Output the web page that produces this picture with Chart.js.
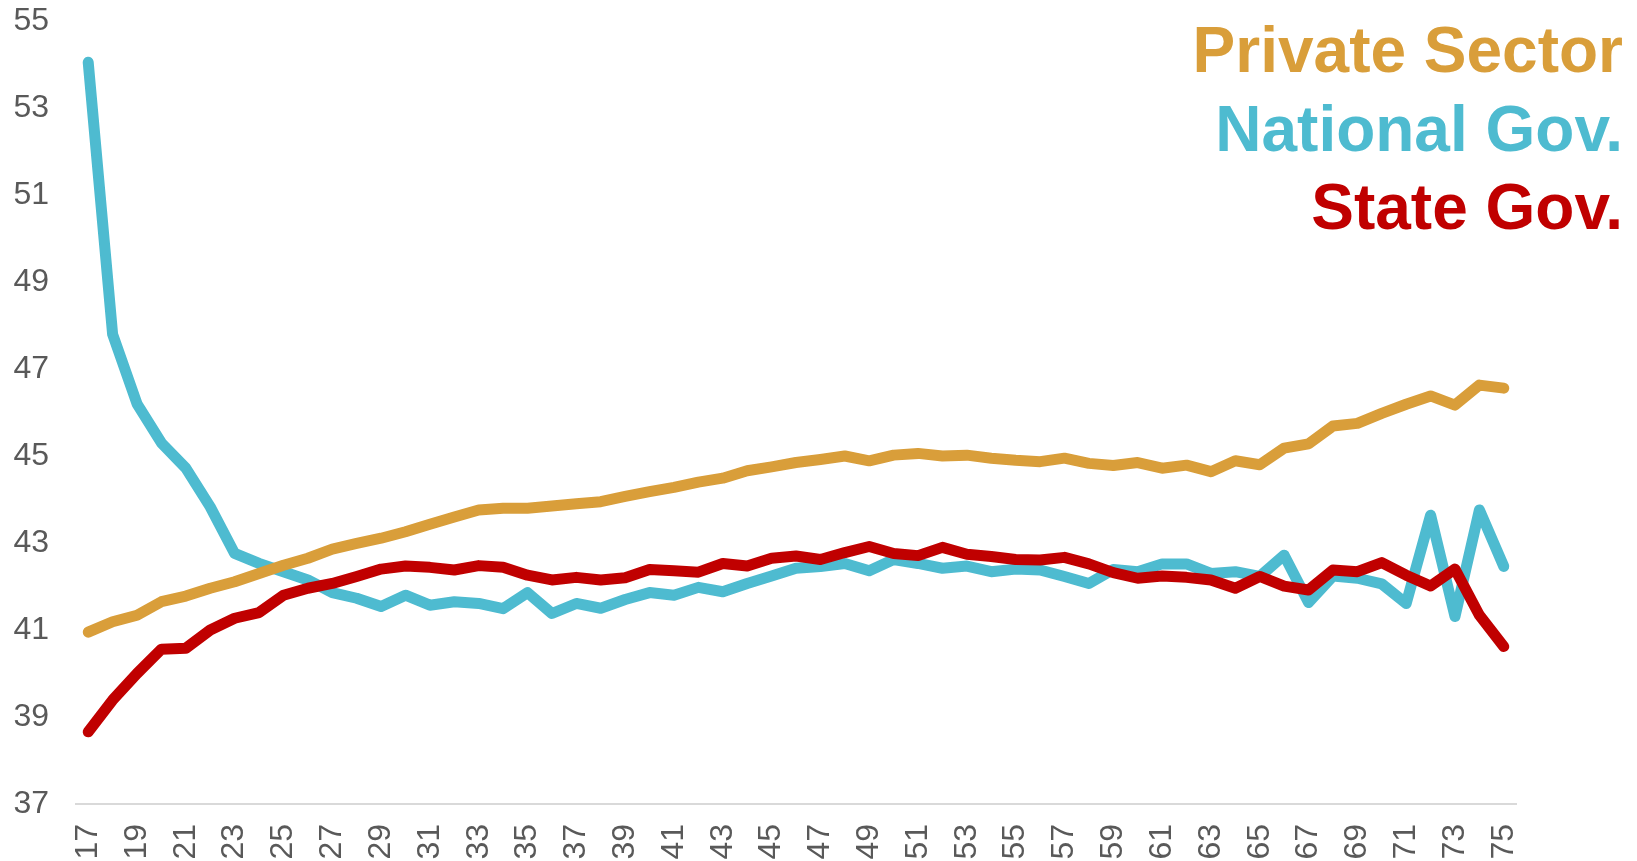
<!DOCTYPE html>
<html>
<head>
<meta charset="utf-8">
<title>Age by sector</title>
<script src="https://cdn.jsdelivr.net/npm/chart.js@4/dist/chart.umd.min.js"></script>
<style>
  html, body { margin: 0; padding: 0; background: #fff; }
  #wrap { position: relative; width: 1637px; height: 861px; }
  #key {
    position: absolute; top: 11px; right: 14px;
    text-align: right; font: bold 64px "Liberation Sans", Arial, sans-serif;
    line-height: 78.5px; white-space: nowrap;
  }
</style>
</head>
<body>
<div id="wrap">
  <canvas id="ageChart"></canvas>
  <div id="key"></div>
</div>
<script>
/* ages on the category axis */
const ages = [17, 18, 19, 20, 21, 22, 23, 24, 25, 26, 27, 28, 29, 30, 31, 32, 33, 34, 35, 36,
              37, 38, 39, 40, 41, 42, 43, 44, 45, 46, 47, 48, 49, 50, 51, 52, 53, 54, 55, 56,
              57, 58, 59, 60, 61, 62, 63, 64, 65, 66, 67, 68, 69, 70, 71, 72, 73, 74, 75];

const privateSector = [40.95, 41.19, 41.34, 41.65, 41.78, 41.96, 42.11, 42.30, 42.49, 42.65,
                       42.86, 42.99, 43.11, 43.26, 43.43, 43.60, 43.76, 43.80, 43.80, 43.85,
                       43.90, 43.95, 44.07, 44.18, 44.28, 44.40, 44.49, 44.66, 44.75, 44.85,
                       44.92, 45.00, 44.89, 45.02, 45.06, 45.00, 45.02, 44.95, 44.90, 44.87,
                       44.95, 44.83, 44.78, 44.85, 44.72, 44.79, 44.64, 44.89, 44.80, 45.18,
                       45.28, 45.69, 45.75, 45.98, 46.19, 46.38, 46.17, 46.63, 46.56];

const nationalGov = [54.05, 47.80, 46.20, 45.30, 44.72, 43.83, 42.76, 42.53, 42.34, 42.15,
                     41.86, 41.73, 41.54, 41.80, 41.57, 41.65, 41.61, 41.49, 41.86, 41.38,
                     41.61, 41.50, 41.70, 41.86, 41.80, 41.98, 41.88, 42.07, 42.24, 42.42,
                     42.46, 42.53, 42.36, 42.62, 42.53, 42.42, 42.47, 42.34, 42.40, 42.38,
                     42.23, 42.07, 42.39, 42.34, 42.52, 42.52, 42.30, 42.34, 42.23, 42.72,
                     41.63, 42.24, 42.19, 42.06, 41.61, 43.64, 41.31, 43.76, 42.46];

const stateGov = [38.66, 39.39, 40.00, 40.56, 40.58, 41.00, 41.27, 41.40, 41.80, 41.96,
                  42.07, 42.23, 42.40, 42.47, 42.44, 42.38, 42.48, 42.44, 42.26, 42.15,
                  42.21, 42.15, 42.20, 42.39, 42.36, 42.33, 42.53, 42.47, 42.65, 42.70,
                  42.62, 42.78, 42.92, 42.76, 42.71, 42.90, 42.74, 42.69, 42.62, 42.61,
                  42.67, 42.52, 42.32, 42.19, 42.24, 42.21, 42.15, 41.96, 42.23, 42.01,
                  41.92, 42.38, 42.34, 42.55, 42.26, 42.01, 42.40, 41.34, 40.62];

const seriesNames  = ['Private Sector', 'National Gov.', 'State Gov.'];
const seriesColors = ['#D99E3A', '#4EBBD0', '#C00000'];

const yMin = 37, yMax = 55, yStep = 2;

const FONT = '"Liberation Sans", Arial, sans-serif';

function lineSet(i, data, order) {
  return {
    label: seriesNames[i],
    data: data,
    borderColor: seriesColors[i],
    backgroundColor: seriesColors[i],
    borderWidth: 11,
    borderCapStyle: 'round',
    borderJoinStyle: 'round',
    pointRadius: 0,
    tension: 0,
    fill: false,
    order: order
  };
}

// no extra room around the axes; the plot box is fixed below
function noPad(s) {
  s.paddingTop = 0; s.paddingBottom = 0;
  s.paddingLeft = 0; s.paddingRight = 0;
}

// key text, top right
const key = document.getElementById('key');
seriesNames.forEach((name, i) => {
  const d = document.createElement('div');
  d.textContent = name;
  d.style.color = seriesColors[i];
  key.appendChild(d);
});

const ctx = document.getElementById('ageChart');
ctx.width = 1637; ctx.height = 861;

new Chart(ctx, {
  type: 'line',
  data: {
    labels: ages.map(String),
    datasets: [
      lineSet(0, privateSector, 2),
      lineSet(1, nationalGov, 3),
      lineSet(2, stateGov, 1)
    ]
  },
  options: {
    responsive: false,
    animation: false,
    layout: { padding: { top: 21, right: 121, left: 0, bottom: 0 } },
    plugins: { legend: { display: false }, tooltip: { enabled: false } },
    scales: {
      x: {
        offset: true,
        grid: { display: false, drawTicks: false },
        border: { display: true, color: '#D9D9D9', width: 2 },
        afterFit: s => { s.height = 57; noPad(s); },
        ticks: {
          autoSkip: false, minRotation: 90, maxRotation: 90, padding: 20,
          color: '#595959', font: { family: FONT, size: 32 },
          callback: (v, i) => ages[i] % 2 ? String(ages[i]) : ''
        }
      },
      y: {
        min: yMin, max: yMax,
        grid: { display: false, drawTicks: false },
        border: { display: false },
        afterFit: s => { s.width = 76; noPad(s); },
        ticks: {
          stepSize: yStep, padding: 27,
          color: '#595959', font: { family: FONT, size: 32 }
        }
      }
    }
  }
});
</script>
</body>
</html>
